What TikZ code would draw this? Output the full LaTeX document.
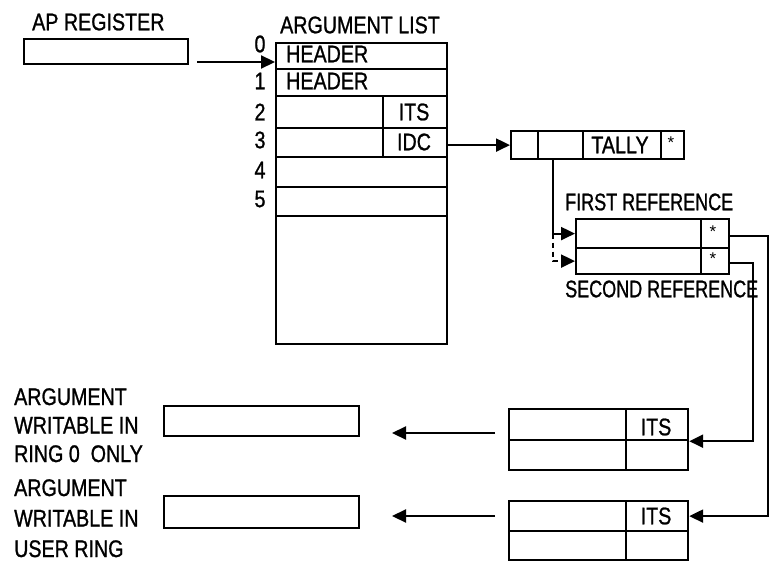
\documentclass[tikz,border=0pt]{standalone}
\usepackage{fontspec}
\setmainfont[FakeStretch=0.82,FakeBold=1]{Liberation Sans}
\newfontfamily\starfont{Liberation Sans}
\newfontfamily\narrowfont[FakeStretch=0.75,FakeBold=1]{Liberation Sans}
\usetikzlibrary{arrows.meta,calc}
\begin{document}
\begin{tikzpicture}[x=1pt,y=-1pt,
  cell/.style={draw,line width=2.2pt,inner sep=0pt,anchor=north west},
  lbl/.style={font=\fontsize{24}{24}\selectfont,inner sep=0pt},
  star/.style={font=\starfont\fontsize{17}{17}\selectfont,inner sep=0pt},
  arr/.style={line width=2.2pt,-{Triangle[length=14pt,width=13pt]}},
  conn/.style={line width=2.2pt}]
\useasboundingbox (0,0) rectangle (771,562);
% AP register
\node[cell,minimum width=164pt,minimum height=25pt] (ap) at (23,38) {};
\node[lbl,anchor=west] (aplbl) at (32,22) {AP REGISTER};
% argument list
\node[lbl,anchor=west] (arglbl) at (280,25) {ARGUMENT LIST};
\node[cell,minimum width=171pt,minimum height=26pt] (r0) at (275,42) {};
\node[cell,minimum width=171pt,minimum height=27pt] (r1) at (275,68) {};
\node[cell,minimum width=107pt,minimum height=32pt] (r2a) at (275,95) {};
\node[cell,minimum width=64pt,minimum height=32pt] (r2b) at (382,95) {};
\node[cell,minimum width=107pt,minimum height=29pt] (r3a) at (275,127) {};
\node[cell,minimum width=64pt,minimum height=29pt] (r3b) at (382,127) {};
\node[cell,minimum width=171pt,minimum height=30pt] (r4) at (275,156) {};
\node[cell,minimum width=171pt,minimum height=29pt] (r5) at (275,186) {};
\node[cell,minimum width=171pt,minimum height=128pt] (r6) at (275,215) {};
\node[lbl,anchor=west] (h0) at (286,54) {HEADER};
\node[lbl,anchor=west] (h1) at (286,81) {HEADER};
\node[lbl] (its0) at (414,112) {ITS};
\node[lbl] (idc) at (414,142) {IDC};
\node[lbl] (n0) at (260,44) {0};
\node[lbl] (n1) at (260,81) {1};
\node[lbl] (n2) at (260,112) {2};
\node[lbl] (n3) at (260,140) {3};
\node[lbl] (n4) at (260,170) {4};
\node[lbl] (n5) at (260,199) {5};
% tally word
\node[cell,minimum width=27pt,minimum height=28pt] (t1) at (510,130) {};
\node[cell,minimum width=45pt,minimum height=28pt] (t2) at (537,130) {};
\node[cell,minimum width=78pt,minimum height=28pt] (t3) at (582,130) {};
\node[cell,minimum width=23pt,minimum height=28pt] (t4) at (660,130) {};
\node[lbl] (tally) at (620,145) {TALLY};
\node[star] (tstar) at (671,143) {*};
% references
\node[lbl,anchor=west,font=\narrowfont\fontsize{24}{24}\selectfont] (firstlbl) at (565,202) {FIRST REFERENCE};
\node[cell,minimum width=125pt,minimum height=29pt] (f1) at (575,218) {};
\node[cell,minimum width=28pt,minimum height=29pt] (f2) at (700,218) {};
\node[cell,minimum width=125pt,minimum height=26pt] (s1) at (575,247) {};
\node[cell,minimum width=28pt,minimum height=26pt] (s2) at (700,247) {};
\node[star] (fstar) at (713,232) {*};
\node[star] (sstar) at (713,259) {*};
\node[lbl,anchor=west,font=\narrowfont\fontsize{24}{24}\selectfont] (secondlbl) at (565,289) {SECOND REFERENCE};
% ITS words
\node[cell,minimum width=117pt,minimum height=31pt] (u1) at (508,408) {};
\node[cell,minimum width=62pt,minimum height=31pt] (u2) at (625,408) {};
\node[cell,minimum width=117pt,minimum height=30pt] (u3) at (508,439) {};
\node[cell,minimum width=62pt,minimum height=30pt] (u4) at (625,439) {};
\node[lbl] (its1) at (656,427) {ITS};
\node[cell,minimum width=117pt,minimum height=30pt] (v1) at (508,500) {};
\node[cell,minimum width=62pt,minimum height=30pt] (v2) at (625,500) {};
\node[cell,minimum width=117pt,minimum height=29pt] (v3) at (508,530) {};
\node[cell,minimum width=62pt,minimum height=29pt] (v4) at (625,530) {};
\node[lbl] (its2) at (656,516) {ITS};
% arguments
\node[cell,minimum width=195pt,minimum height=30pt] (a1) at (163,405) {};
\node[cell,minimum width=195pt,minimum height=32pt] (a2) at (163,495) {};
\node[lbl,anchor=base west,align=left,font=\fontsize{24}{28.5}\selectfont] (a1lbl) at (14,462) {ARGUMENT\\WRITABLE IN\\RING 0\ \ ONLY};
\node[lbl,anchor=base west,align=left,font=\fontsize{24}{30.5}\selectfont] (a2lbl) at (14,557) {ARGUMENT\\WRITABLE IN\\USER RING};
% connectors
\coordinate (apout) at (197,62);
\draw[arr] (apout) -- (apout -| r0.west);
\draw[arr] (r3b.east |- t1.west) -- (t1.west);
\coordinate (tdown) at ($(t2.south west)+(16,0)$);
\draw[arr] (tdown) |- (f1.west);
\coordinate (dcorner) at (tdown |- f1.west);
\coordinate (dend) at ($(s1.west)+(-13,0)$);
\draw[conn,dashed,dash pattern=on 5pt off 4pt] (dcorner) |- (dend);
\draw[arr] (dend) -- (s1.west);
\coordinate (xr) at (768,0);
\draw[arr] ($(f2.east)+(0,2)$) -| (xr |- v2.east) -- (v2.east);
\coordinate (xs) at (753,0);
\draw[arr] ($(s2.east)+(0,2)$) -| (xs |- u2.south east) -- (u2.south east);
\coordinate (la1) at (495,433);
\coordinate (la2) at (495,516);
\draw[arr] (la1) -- ($(la1)+(-103,0)$);
\draw[arr] (la2) -- ($(la2)+(-103,0)$);
\end{tikzpicture}
\end{document}
